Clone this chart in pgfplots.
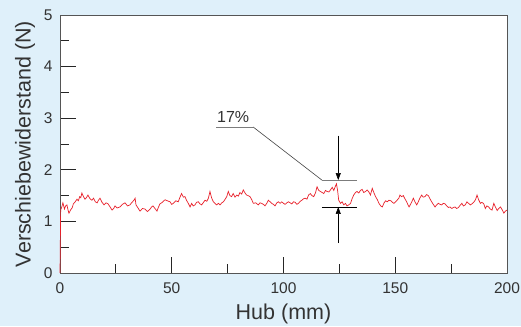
\documentclass[border=0pt]{standalone}
\usepackage{pgfplots}
\pgfplotsset{compat=1.18}
\usepackage{fontspec}
\setmainfont{Liberation Sans}
\usetikzlibrary{arrows.meta}
\definecolor{bg}{HTML}{DFF0FA}
\definecolor{txt}{HTML}{333333}
\definecolor{ax}{HTML}{555555}
\definecolor{curve}{HTML}{E8202A}
\definecolor{ann}{HTML}{444444}
\begin{document}
\begin{tikzpicture}
\fill[bg] (-60pt,-53pt) rectangle (461pt,273pt);
\useasboundingbox (-60pt,-53pt) rectangle (461pt,273pt);
\begin{axis}[
  at={(0,0)}, anchor=south west,
  scale only axis, width=447pt, height=258pt,
  xmin=0, xmax=200, ymin=0, ymax=5,
  axis background/.style={fill=white},
  axis line style={ax, line width=0.8pt},
  xtick={0,50,100,150,200}, minor xtick={25,75,125,175},
  ytick={0,1,2,3,4,5}, minor ytick={0.5,1.5,2.5,3.5,4.5},
  xtick pos=bottom, ytick pos=left, tick align=inside,
  major tick length=16pt, minor tick length=8.5pt,
  every major tick/.style={black!85, line width=0.8pt},
  every minor tick/.style={black!85, line width=0.8pt},
  tick label style={font=\fontsize{15.5}{15.5}\selectfont, text=txt},
  xticklabel style={yshift=-6pt},
  yticklabel style={xshift=-4pt},
  /pgf/number format/assume math mode=true,
  xlabel={Hub (mm)}, ylabel={Verschiebewiderstand (N)},
  label style={font=\fontsize{21.5}{21.5}\selectfont, text=txt},
  xlabel style={yshift=-4pt},
  ylabel style={yshift=2pt},
  clip=false,
]
\addplot[curve, line width=0.7pt] coordinates {
(0,0) (0.3,1.22) (0.8,1.28) (1.3,1.36) (2.0,1.24) (2.5,1.30) (3.1,1.32) (3.6,1.22) (4.0,1.16) (4.7,1.22)
(5.4,1.26) (6.0,1.34) (6.8,1.38) (7.6,1.43) (8.2,1.40) (8.8,1.48) (9.3,1.46) (9.8,1.55) (10.5,1.48) (11.2,1.43)
(11.8,1.46) (12.5,1.51) (13.4,1.44) (14.3,1.41) (15.0,1.45) (15.8,1.38) (16.6,1.36) (17.2,1.41) (17.9,1.45) (18.8,1.37)
(19.7,1.32) (20.6,1.36) (21.5,1.34) (22.4,1.28) (23.3,1.22) (24.0,1.25) (24.6,1.30) (25.6,1.26) (26.8,1.28) (27.9,1.33)
(29.1,1.36) (30.2,1.30) (31.3,1.32) (32.2,1.37) (33.1,1.41) (33.6,1.45) (34.0,1.32) (34.9,1.26) (35.8,1.20) (36.9,1.25)
(38.0,1.24) (39.1,1.19) (40.3,1.24) (41.0,1.28) (41.6,1.30) (42.5,1.25) (43.4,1.20) (44.0,1.27) (44.7,1.34) (45.8,1.37)
(47.0,1.42) (48.0,1.40) (49.2,1.38) (50.0,1.33) (50.7,1.35) (51.8,1.40) (52.9,1.38) (53.6,1.46) (54.4,1.54) (55.2,1.47)
(55.9,1.48) (56.6,1.41) (57.4,1.35) (58.2,1.28) (58.9,1.35) (59.6,1.30) (60.4,1.32) (61.1,1.37) (61.9,1.38) (62.6,1.34)
(63.4,1.32) (64.2,1.37) (64.9,1.41) (65.7,1.39) (66.4,1.45) (67.1,1.58) (67.8,1.46) (68.6,1.38) (69.3,1.35) (70.1,1.32)
(70.9,1.35) (71.6,1.32) (72.4,1.36) (73.1,1.38) (73.9,1.43) (74.6,1.48) (75.3,1.58) (76.0,1.50) (76.8,1.48) (77.5,1.54)
(78.3,1.47) (79.1,1.51) (79.8,1.49) (80.5,1.56) (81.3,1.53) (82.0,1.61) (82.8,1.55) (83.5,1.51) (84.2,1.50) (85.0,1.48)
(85.8,1.42) (86.5,1.35) (87.6,1.36) (88.7,1.32) (89.5,1.36) (90.2,1.35) (91.0,1.33) (91.7,1.30) (92.5,1.35) (93.2,1.41)
(94.0,1.38) (94.7,1.35) (95.5,1.33) (96.2,1.30) (97.0,1.36) (97.7,1.38) (98.5,1.35) (99.2,1.38) (100.0,1.35) (100.7,1.33)
(101.5,1.36) (102.2,1.38) (103.0,1.36) (103.7,1.34) (104.5,1.38) (105.2,1.37) (106.0,1.33) (106.7,1.35) (107.5,1.39) (108.2,1.41)
(109.0,1.44) (109.7,1.45) (110.5,1.43) (111.2,1.51) (112.0,1.54) (112.7,1.50) (113.5,1.48) (114.3,1.55) (115.0,1.67) (115.8,1.60)
(116.5,1.58) (117.3,1.56) (118.0,1.54) (118.8,1.60) (119.5,1.58) (120.3,1.57) (121.0,1.61) (121.8,1.66) (122.5,1.60) (123.2,1.68)
(123.7,1.73) (124.2,1.60) (124.7,1.41) (125.5,1.35) (126.2,1.38) (127.0,1.32) (127.7,1.35) (128.4,1.30) (129.2,1.32) (130.0,1.35)
(130.7,1.44) (131.4,1.51) (132.2,1.56) (132.9,1.58) (133.7,1.55) (134.4,1.60) (135.2,1.62) (135.9,1.56) (136.7,1.58) (137.4,1.61)
(138.2,1.57) (138.9,1.51) (139.7,1.64) (140.5,1.55) (141.2,1.48) (142.0,1.42) (142.7,1.35) (143.5,1.30) (144.2,1.28) (145.0,1.36)
(145.7,1.40) (146.4,1.38) (147.2,1.41) (148.0,1.40) (148.7,1.37) (149.4,1.35) (150.2,1.38) (151.0,1.42) (151.6,1.45) (152.1,1.51)
(152.8,1.48) (153.6,1.50) (154.3,1.44) (155.1,1.38) (155.7,1.32) (156.2,1.28) (156.8,1.33) (157.4,1.38) (158.1,1.45) (158.8,1.38)
(159.6,1.32) (160.3,1.38) (161.0,1.45) (161.8,1.51) (162.5,1.47) (163.3,1.48) (164.0,1.52) (164.8,1.50) (165.5,1.44) (166.3,1.38)
(167.0,1.33) (167.8,1.28) (168.5,1.32) (169.3,1.35) (170.0,1.33) (170.8,1.32) (171.5,1.35) (172.3,1.34) (173.0,1.30) (173.8,1.27)
(174.5,1.28) (175.3,1.25) (176.0,1.27) (176.8,1.28) (177.5,1.25) (178.3,1.27) (179.0,1.31) (179.8,1.35) (180.5,1.30) (181.3,1.32)
(182.1,1.38) (182.8,1.35) (183.6,1.32) (184.3,1.34) (185.1,1.37) (185.9,1.42) (186.6,1.51) (187.3,1.42) (188.1,1.35) (188.8,1.37)
(189.6,1.34) (190.3,1.25) (191.0,1.30) (191.8,1.28) (192.5,1.24) (193.3,1.22) (194.1,1.35) (194.8,1.28) (195.6,1.21) (196.3,1.25)
(197.1,1.28) (197.9,1.22) (198.6,1.16) (199.3,1.20) (200.0,1.22)
};
% annotation
\draw[ann!70, line width=0.7pt] (axis cs:69.8,2.83) -- (axis cs:86.4,2.83);
\draw[ann, line width=0.6pt] (axis cs:86.4,2.83) -- (axis cs:117.2,1.80);
\draw[ann!70, line width=0.7pt] (axis cs:117.2,1.80) -- (axis cs:132.9,1.80);
\draw[black, line width=0.7pt] (axis cs:117.2,1.28) -- (axis cs:132.9,1.28);
\draw[black, line width=0.6pt, -{Triangle[length=7pt,width=5pt]}] (axis cs:124.5,2.66) -- (axis cs:124.5,1.80);
\draw[black, line width=0.6pt, -{Triangle[length=7pt,width=5pt]}] (axis cs:124.5,0.58) -- (axis cs:124.5,1.28);
\node[anchor=base, text=txt, font=\fontsize{16}{16}\selectfont] at (axis cs:77.5,2.92) {17\%};
\end{axis}
\end{tikzpicture}
\end{document}
